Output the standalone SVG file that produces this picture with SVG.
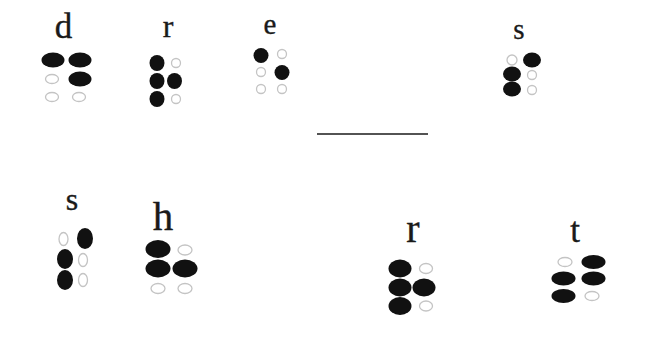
<svg xmlns="http://www.w3.org/2000/svg" width="649" height="340" viewBox="0 0 649 340">
<style>
text{font-family:"Liberation Serif","DejaVu Serif",serif;fill:#1a1a1a;stroke:#1a1a1a;stroke-width:0.35;text-anchor:middle}
.f{fill:#111}
.e{fill:#fff;stroke:#c4c4c4;stroke-width:1.3}
</style>
<rect width="649" height="340" fill="#fff"/>
<g id="cell-d">
<text x="63.5" y="38" font-size="35">d</text>
<ellipse class="f" cx="53" cy="60" rx="11.5" ry="7.5"/>
<ellipse class="f" cx="80" cy="60" rx="11.5" ry="7.5"/>
<ellipse class="e" cx="52" cy="79" rx="6.5" ry="4.5"/>
<ellipse class="f" cx="80" cy="79" rx="11.5" ry="7.5"/>
<ellipse class="e" cx="52" cy="97" rx="6.5" ry="4.5"/>
<ellipse class="e" cx="79" cy="97" rx="6.5" ry="4.5"/>
</g>
<g id="cell-r1">
<text x="168" y="37" font-size="32">r</text>
<ellipse class="f" cx="157" cy="63" rx="7.5" ry="8"/>
<ellipse class="e" cx="176" cy="63" rx="4.5" ry="4.5"/>
<ellipse class="f" cx="157" cy="81" rx="7.5" ry="8"/>
<ellipse class="f" cx="174.5" cy="81" rx="7.5" ry="8"/>
<ellipse class="f" cx="157" cy="99" rx="7.5" ry="8"/>
<ellipse class="e" cx="176" cy="99" rx="4.5" ry="4.5"/>
</g>
<g id="cell-e">
<text x="270" y="33.5" font-size="29">e</text>
<ellipse class="f" cx="261" cy="55.5" rx="7.5" ry="7.5"/>
<ellipse class="e" cx="282" cy="54" rx="4.5" ry="4.5"/>
<ellipse class="e" cx="261" cy="72" rx="4.5" ry="4.5"/>
<ellipse class="f" cx="282" cy="72.5" rx="7.5" ry="7.5"/>
<ellipse class="e" cx="261" cy="89" rx="4.5" ry="4.5"/>
<ellipse class="e" cx="282" cy="89" rx="4.5" ry="4.5"/>
</g>
<g id="cell-s1">
<text x="519" y="38.5" font-size="29">s</text>
<ellipse class="e" cx="512" cy="60" rx="5" ry="5"/>
<ellipse class="f" cx="532" cy="60" rx="9" ry="7.5"/>
<ellipse class="f" cx="512" cy="74" rx="9" ry="7.5"/>
<ellipse class="e" cx="532" cy="75" rx="4.5" ry="4.5"/>
<ellipse class="f" cx="512" cy="89" rx="9" ry="7.5"/>
<ellipse class="e" cx="532" cy="90" rx="4.5" ry="4.5"/>
</g>
<g id="connectors">
<line x1="317" y1="134" x2="428" y2="134" stroke="#1a1a1a" stroke-width="1.6"/>
</g>
<g id="cell-s2">
<text x="72" y="210" font-size="32">s</text>
<ellipse class="e" cx="63.5" cy="239" rx="4.5" ry="6.5"/>
<ellipse class="f" cx="85" cy="238.5" rx="8" ry="10.5"/>
<ellipse class="f" cx="65" cy="259" rx="8" ry="10"/>
<ellipse class="e" cx="83" cy="260" rx="4.5" ry="6.5"/>
<ellipse class="f" cx="65" cy="280" rx="8" ry="10"/>
<ellipse class="e" cx="83" cy="280" rx="4.5" ry="6.5"/>
</g>
<g id="cell-h">
<text x="163" y="230" font-size="41">h</text>
<ellipse class="f" cx="158" cy="249" rx="12.5" ry="9"/>
<ellipse class="e" cx="185" cy="250" rx="7" ry="5"/>
<ellipse class="f" cx="158" cy="268.5" rx="12.5" ry="9"/>
<ellipse class="f" cx="185" cy="268.5" rx="12.5" ry="9"/>
<ellipse class="e" cx="158" cy="288.5" rx="7" ry="5"/>
<ellipse class="e" cx="185" cy="288.5" rx="7" ry="5"/>
</g>
<g id="cell-r2">
<text x="413" y="242" font-size="40">r</text>
<ellipse class="f" cx="400" cy="268.5" rx="11.5" ry="9"/>
<ellipse class="e" cx="426" cy="268.5" rx="6.5" ry="5"/>
<ellipse class="f" cx="400" cy="287.5" rx="11.5" ry="9"/>
<ellipse class="f" cx="424" cy="287.5" rx="11.5" ry="9"/>
<ellipse class="f" cx="400" cy="306" rx="11.5" ry="9"/>
<ellipse class="e" cx="426" cy="306" rx="6.5" ry="5"/>
</g>
<g id="cell-t">
<text x="575" y="242" font-size="35">t</text>
<ellipse class="e" cx="565" cy="262" rx="7" ry="4.5"/>
<ellipse class="f" cx="593.5" cy="262" rx="12" ry="7"/>
<ellipse class="f" cx="563.5" cy="278.5" rx="12" ry="7"/>
<ellipse class="f" cx="593.5" cy="278.5" rx="12" ry="7"/>
<ellipse class="f" cx="563.5" cy="296" rx="12" ry="7"/>
<ellipse class="e" cx="592" cy="296" rx="7" ry="4.5"/>
</g>
</svg>
